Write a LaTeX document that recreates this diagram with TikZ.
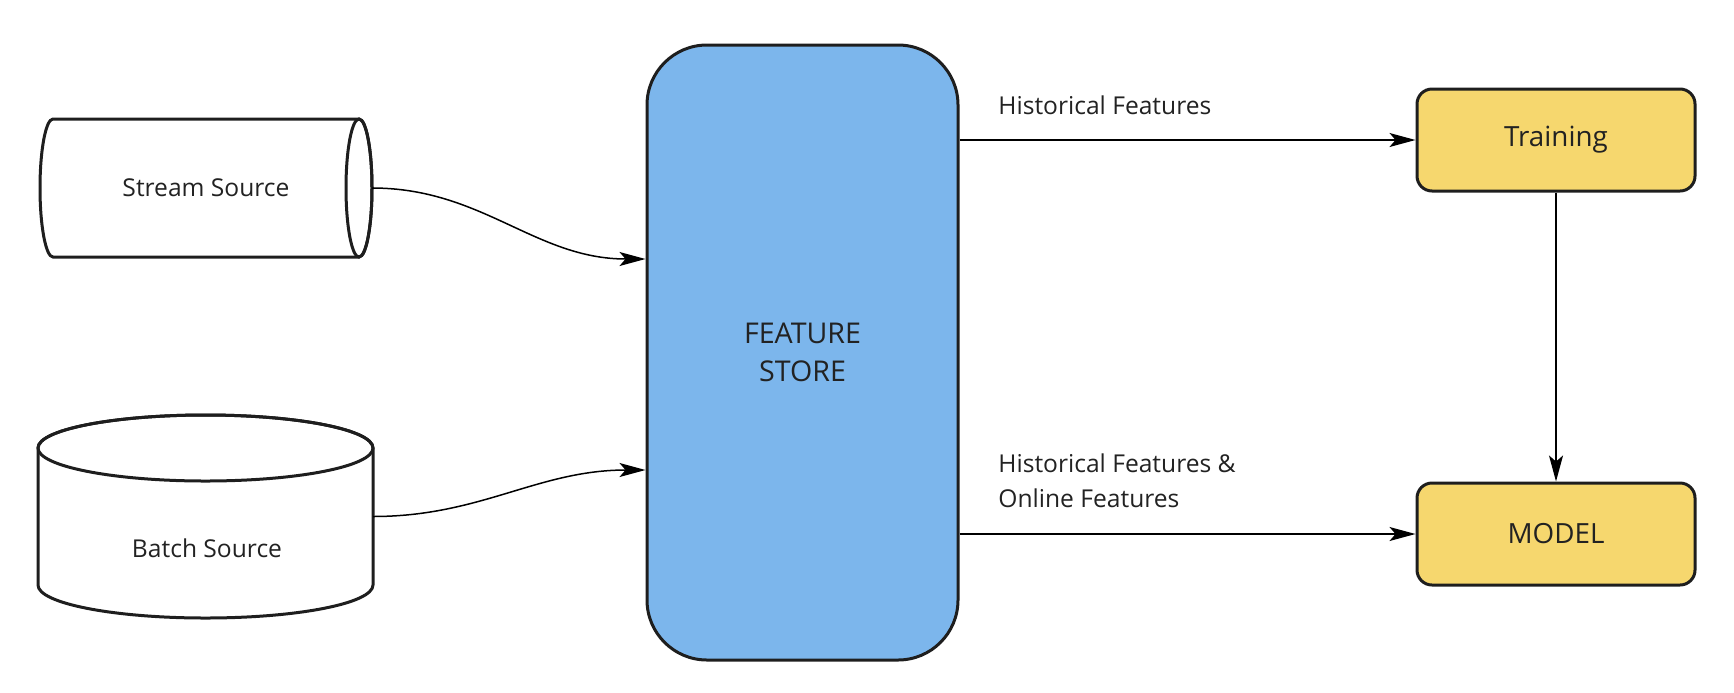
\documentclass[tikz,border=0pt]{standalone}
\usepackage{fontspec}
\setmainfont{Open Sans}
\usetikzlibrary{arrows.meta}
\definecolor{storeblue}{RGB}{124,182,236}
\definecolor{boxyellow}{RGB}{246,215,110}
\definecolor{ink}{RGB}{30,30,30}
\definecolor{txt}{RGB}{34,34,34}

\begin{document}
\begin{tikzpicture}[x=0.5pt,y=-0.5pt,
  outline/.style={draw=ink, line width=1.5pt},
  flow/.style={draw=black, line width=0.75pt, -{Stealth[length=13pt,width=7pt,inset=3pt]}},
  small/.style={font=\fontsize{12.3}{17.5}\selectfont, text=txt},
  label/.style={font=\fontsize{12.3}{17.5}\selectfont, text=txt, inner sep=0pt},
  stage/.style={outline, fill=boxyellow, rounded corners=7.5pt, minimum width=139pt,
    minimum height=51pt, text=txt, font=\fontsize{13.9}{16}\selectfont},
  frame/.style={inner sep=0pt, outer sep=0pt}
]
\useasboundingbox (0,0) rectangle (1734,692);

% stream source: horizontal cylinder
\node[frame, small, minimum width=166pt, minimum height=69pt] (stream) at (206,188) {Stream Source};
\draw[outline] ([xshift=6.5pt]stream.north west) -- ([xshift=-6.5pt]stream.north east)
  arc[start angle=90, end angle=-90, x radius=6.5pt, y radius=34.5pt]
  -- ([xshift=6.5pt]stream.south west)
  arc[start angle=270, end angle=90, x radius=6.5pt, y radius=34.5pt] -- cycle;
\draw[outline] ([xshift=-6.5pt]stream.east) ellipse [x radius=6.5pt, y radius=34.5pt];

% batch source: upright cylinder
\node[frame, minimum width=167.5pt, minimum height=101.5pt] (batch) at (205.5,516.5) {};
\draw[outline] ([yshift=-16.5pt]batch.north west) -- ([yshift=16.5pt]batch.south west)
  arc[start angle=180, end angle=360, x radius=83.75pt, y radius=16.5pt]
  -- ([yshift=-16.5pt]batch.north east)
  arc[start angle=0, end angle=180, x radius=83.75pt, y radius=16.5pt] -- cycle;
\draw[outline] ([yshift=-16.5pt]batch.north) ellipse [x radius=83.75pt, y radius=16.5pt];
\node[small] (batchtext) at ([xshift=0.75pt,yshift=-15.75pt]batch.center) {Batch Source};

% feature store
\node[outline, fill=storeblue, rounded corners=30pt, minimum width=155.5pt,
  minimum height=307.5pt, align=center, text=txt,
  font=\fontsize{14.3}{18.8}\selectfont] (store) at (802.5,352.5) {FEATURE\\STORE};

% consumers
\node[stage] (training) at (1556,140) {Training};
\node[stage] (model) at (1556,534) {MODEL};

% connectors
\draw[flow] (stream.east) to[out=0, in=180] ([yshift=46.75pt]store.west);
\draw[flow] (batch.east) to[out=0, in=180] ([yshift=-58.75pt]store.west);
\draw[flow] (store.east |- training.west) -- (training.west);
\draw[flow] (store.east |- model.west) -- (model.west);
\draw[flow] (training.south) -- (model.north);

% connector labels
\node[label, anchor=base west] (histlabel) at (998,114) {Historical Features};
\node[label, anchor=west, align=left] (bothlabel) at (998,481) {Historical Features \&\\Online Features};
\end{tikzpicture}
\end{document}
